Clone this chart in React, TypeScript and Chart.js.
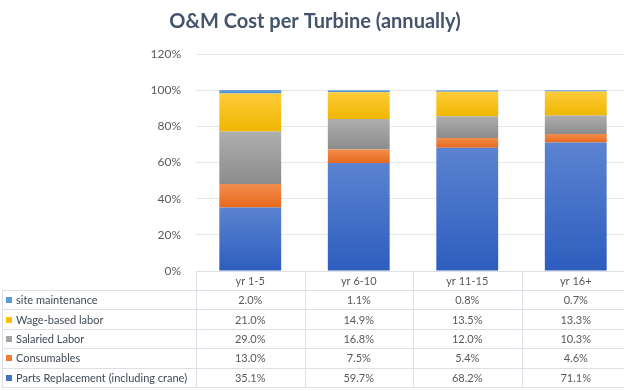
import React, { useEffect, useRef } from "react";
import { Chart, registerables } from "chart.js";
Chart.register(...registerables);

const categories = ["yr 1-5", "yr 6-10", "yr 11-15", "yr 16+"];
const partsReplacement = [35.1, 59.7, 68.2, 71.1];
const consumables = [13.0, 7.5, 5.4, 4.6];
const salariedLabor = [29.0, 16.8, 12.0, 10.3];
const wageBasedLabor = [21.0, 14.9, 13.5, 13.3];
const siteMaintenance = [2.0, 1.1, 0.8, 0.7];
const seriesNames = [
  "Parts Replacement (including crane)",
  "Consumables",
  "Salaried Labor",
  "Wage-based labor",
  "site maintenance",
];
const titleText = "O&M Cost per Turbine (annually)";

const seriesValues = [partsReplacement, consumables, salariedLabor, wageBasedLabor, siteMaintenance];
const flatColors = ["#4472C4", "#ED7D31", "#A5A5A5", "#FFC000", "#5B9BD5"];
const gradStops: [string, string][] = [
  ["#5B83D1", "#2D5DBE"],
  ["#F38D4D", "#E8681D"],
  ["#AEAEAE", "#8C8C8C"],
  ["#FFCB3A", "#EFB700"],
  ["#6AA6DC", "#4A8CCB"],
];

const FONT = "Lato, 'Open Sans', sans-serif";

const tablePlugin = {
  id: "dataTable",
  afterDraw(chart: any) {
    const ctx = chart.ctx;
    const xs = chart.scales.x;
    const top = chart.chartArea.bottom;
    const colW = xs.getPixelForValue(1) - xs.getPixelForValue(0);
    const left0 = xs.getPixelForValue(0) - colW / 2;
    const headerH = 19;
    const rowH = 19.4;
    const legendLeft = 2;
    const nRows = seriesNames.length;
    const bottom = top + headerH + nRows * rowH;
    const right = left0 + colW * categories.length;
    ctx.save();
    ctx.strokeStyle = "#DCE0E6";
    ctx.lineWidth = 1;
    ctx.beginPath();
    // header top
    ctx.moveTo(left0, Math.round(top) + 0.5);
    ctx.lineTo(right, Math.round(top) + 0.5);
    for (let k = 0; k <= nRows; k++) {
      const y = Math.round(top + headerH + k * rowH) + 0.5;
      ctx.moveTo(legendLeft, y);
      ctx.lineTo(right, y);
    }
    ctx.moveTo(legendLeft + 0.5, Math.round(top + headerH));
    ctx.lineTo(legendLeft + 0.5, Math.round(bottom) + 1);
    for (let i = 0; i <= categories.length; i++) {
      const x = Math.round(left0 + i * colW) + 0.5;
      ctx.moveTo(x, Math.round(top));
      ctx.lineTo(x, Math.round(bottom) + 1);
    }
    ctx.stroke();

    ctx.font = `11px ${FONT}`;
    ctx.textBaseline = "middle";
    ctx.textAlign = "center";
    ctx.fillStyle = "#595959";
    categories.forEach((c, i) => {
      ctx.fillText(c, left0 + (i + 0.5) * colW, top + headerH / 2 + 1);
    });
    for (let r = 0; r < nRows; r++) {
      const si = nRows - 1 - r;
      const cy = top + headerH + (r + 0.5) * rowH + 1;
      ctx.fillStyle = flatColors[si];
      ctx.fillRect(6, Math.round(cy - 3.5), 6, 6);
      ctx.textAlign = "left";
      ctx.fillStyle = "#404a56";
      ctx.fillText(seriesNames[si], 16, cy);
      ctx.textAlign = "center";
      ctx.fillStyle = "#595959";
      seriesValues[si].forEach((v, i) => {
        ctx.fillText(v.toFixed(1) + "%", left0 + (i + 0.5) * colW, cy);
      });
    }
    ctx.restore();
  },
};

export default function App() {
  const ref = useRef<HTMLCanvasElement>(null);
  useEffect(() => {
    if (!ref.current) return;
    const makeBg = (si: number) => (c: any) => {
      const chart = c.chart;
      const ys = chart.scales?.y;
      if (!chart.chartArea || !ys || c.dataIndex === undefined) return flatColors[si];
      let start = 0;
      for (let k = 0; k < si; k++) start += seriesValues[k][c.dataIndex];
      const end = start + seriesValues[si][c.dataIndex];
      const y0 = ys.getPixelForValue(end);
      const y1 = ys.getPixelForValue(start);
      if (!isFinite(y0) || !isFinite(y1) || y0 === y1) return flatColors[si];
      const g = chart.ctx.createLinearGradient(0, y0, 0, y1);
      g.addColorStop(0, gradStops[si][0]);
      g.addColorStop(1, gradStops[si][1]);
      return g;
    };
    const chart = new Chart(ref.current, {
      type: "bar",
      data: {
        labels: categories,
        datasets: seriesValues.map((vals, si) => ({
          label: seriesNames[si],
          data: vals,
          backgroundColor: makeBg(si),
          borderWidth: 0,
          barPercentage: 0.57,
          categoryPercentage: 1,
        })),
      },
      options: {
        responsive: false,
        animation: false,
        devicePixelRatio: 1,
        layout: { padding: { top: 0, bottom: 120, left: 0, right: 0 } },
        plugins: {
          legend: { display: false },
          tooltip: { enabled: false },
          title: {
            display: true,
            text: titleText,
            color: "#44546A",
            font: { family: FONT, size: 20, weight: "bold" },
            padding: { top: 10, bottom: 20 },
          },
        },
        scales: {
          x: { stacked: true, display: false },
          y: {
            stacked: true,
            min: 0,
            max: 120,
            ticks: {
              stepSize: 20,
              callback: (v: any) => v + "%",
              color: "#595959",
              font: { family: FONT, size: 12 },
              padding: 15,
            },
            grid: { color: "#E4E7EC", drawTicks: false },
            border: { display: false },
            afterFit: (s: any) => {
              s.width = 196;
            },
          },
        },
      },
      plugins: [tablePlugin],
    } as any);
    return () => chart.destroy();
  }, []);
  return (
    <div style={{ position: "fixed", left: 0, top: 0, width: 624, height: 391, overflow: "hidden", background: "#fff" }}>
      <canvas ref={ref} width={630} height={391} style={{ display: "block" }} />
    </div>
  );
}
